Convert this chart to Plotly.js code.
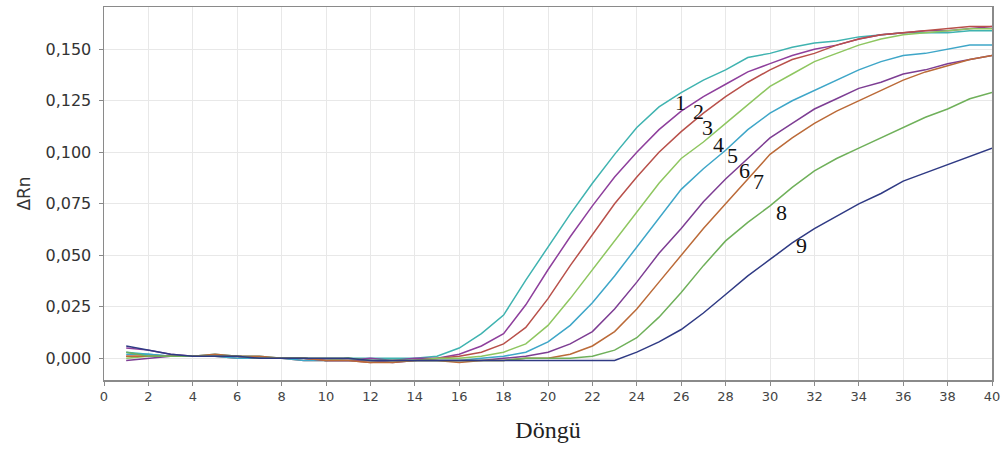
<!DOCTYPE html>
<html>
<head>
<meta charset="utf-8">
<script src="https://cdn.plot.ly/plotly-3.0.1.min.js"></script>
<style>html,body{margin:0;padding:0;background:#fff;}#chart{width:1002px;height:451px;}</style>
</head>
<body>
<div id="chart"></div>
<script>
const cycles = [1,2,3,4,5,6,7,8,9,10,11,12,13,14,15,16,17,18,19,20,21,22,23,24,25,26,27,28,29,30,31,32,33,34,35,36,37,38,39,40];

const curve1 = [0.003,0.002,0.001,0.001,0.002,0.001,0.001,0.000,0.000,-0.001,0.000,0.000,0.000,0.000,0.001,0.005,0.012,0.021,0.038,0.054,0.070,0.085,0.099,0.112,0.122,0.129,0.135,0.140,0.146,0.148,0.151,0.153,0.154,0.156,0.157,0.158,0.158,0.158,0.159,0.159];
const curve2 = [0.005,0.004,0.002,0.001,0.001,0.001,0.000,0.000,0.000,-0.001,-0.001,0.000,-0.001,0.000,0.000,0.002,0.006,0.012,0.026,0.043,0.059,0.074,0.088,0.100,0.111,0.120,0.127,0.133,0.139,0.143,0.147,0.150,0.152,0.155,0.157,0.158,0.159,0.159,0.160,0.161];
const curve3 = [0.001,0.001,0.001,0.001,0.001,0.000,0.000,0.000,-0.001,-0.001,-0.001,-0.002,-0.001,-0.001,0.000,0.001,0.003,0.007,0.015,0.029,0.045,0.060,0.075,0.088,0.100,0.110,0.119,0.127,0.134,0.140,0.145,0.148,0.152,0.155,0.157,0.158,0.159,0.160,0.161,0.161];
const curve4 = [0.000,0.001,0.001,0.001,0.001,0.001,0.000,0.000,0.000,-0.001,0.000,-0.001,-0.001,-0.001,0.000,0.000,0.001,0.003,0.007,0.016,0.029,0.043,0.057,0.071,0.085,0.097,0.105,0.114,0.123,0.132,0.138,0.144,0.148,0.152,0.155,0.157,0.158,0.159,0.160,0.160];
const curve5 = [0.002,0.002,0.001,0.001,0.001,0.000,0.000,0.000,-0.001,-0.001,-0.001,-0.001,-0.001,-0.001,-0.001,-0.001,0.000,0.001,0.003,0.008,0.016,0.027,0.040,0.054,0.068,0.082,0.092,0.101,0.111,0.119,0.125,0.130,0.135,0.140,0.144,0.147,0.148,0.150,0.152,0.152];
const curve6 = [-0.001,0.000,0.001,0.001,0.001,0.001,0.000,0.000,0.000,-0.001,-0.001,-0.001,-0.002,-0.001,-0.001,-0.001,-0.001,0.000,0.001,0.003,0.007,0.013,0.024,0.037,0.051,0.063,0.076,0.087,0.097,0.107,0.114,0.121,0.126,0.131,0.134,0.138,0.140,0.143,0.145,0.147];
const curve7 = [0.001,0.001,0.001,0.001,0.002,0.001,0.001,0.000,0.000,-0.001,-0.001,-0.002,-0.002,-0.001,-0.001,-0.002,-0.001,-0.001,0.000,0.000,0.002,0.006,0.013,0.024,0.037,0.050,0.063,0.075,0.087,0.099,0.107,0.114,0.120,0.125,0.130,0.135,0.139,0.142,0.145,0.147];
const curve8 = [0.003,0.001,0.001,0.001,0.001,0.001,0.000,0.000,0.000,0.000,0.000,-0.001,-0.001,-0.001,-0.001,-0.001,-0.001,-0.001,0.000,0.000,0.000,0.001,0.004,0.010,0.020,0.032,0.045,0.057,0.066,0.074,0.083,0.091,0.097,0.102,0.107,0.112,0.117,0.121,0.126,0.129];
const curve9 = [0.006,0.004,0.002,0.001,0.001,0.001,0.000,0.000,0.000,0.000,0.000,-0.001,-0.001,-0.001,-0.001,-0.001,-0.001,-0.001,-0.001,-0.001,-0.001,-0.001,-0.001,0.003,0.008,0.014,0.022,0.031,0.040,0.048,0.056,0.063,0.069,0.075,0.080,0.086,0.090,0.094,0.098,0.102];

const seriesNames = ['1','2','3','4','5','6','7','8','9'];
const seriesValues = [curve1,curve2,curve3,curve4,curve5,curve6,curve7,curve8,curve9];
const seriesColors = ['#3fb3b0','#8e3f9c','#b8504a','#8ec660','#3ea6c8','#7d3d93','#bb6a38','#6fb05a','#2f3a84'];

const labelX = [25.95,26.76,27.2,27.66,28.3,28.87,29.46,30.54,31.44];
const labelY = [0.1244,0.1196,0.1118,0.1040,0.0982,0.0914,0.0856,0.0710,0.0550];

const traces = seriesValues.map((v,i)=>({
  x: cycles, y: v, type:'scatter', mode:'lines', name: seriesNames[i],
  line:{color: seriesColors[i], width:1.5}, showlegend:false, hoverinfo:'skip'
}));

const annotations = seriesNames.map((t,i)=>({
  x: labelX[i], y: labelY[i], xref:'x', yref:'y', text: t, showarrow:false,
  font:{family:'Liberation Serif, Times New Roman, serif', size:22, color:'#111'}
}));

const layout = {
  width:1002, height:451,
  margin:{l:104, r:10, t:7, b:71, pad:0},
  paper_bgcolor:'#fff', plot_bgcolor:'#fff',
  separators: ',.',
  showlegend:false,
  annotations: annotations,
  xaxis:{
    range:[0,40], tick0:0, dtick:2, tickmode:'linear',
    showgrid:true, gridcolor:'#e8e8e8', gridwidth:1,
    zeroline:false, showline:true, linecolor:'#8a8a8a', linewidth:1.5, mirror:true,
    ticks:'outside', ticklen:4, tickcolor:'#8a8a8a',
    tickfont:{family:'DejaVu Sans, sans-serif', size:13, color:'#444'},
    title:{text:'Döngü', font:{family:'Liberation Serif, Times New Roman, serif', size:24, color:'#222'}, standoff:18}
  },
  yaxis:{
    range:[-0.0105,0.1705], tick0:0, dtick:0.025, tickmode:'linear', tickformat:'.3f',
    showgrid:true, gridcolor:'#e8e8e8', gridwidth:1,
    zeroline:false, showline:true, linecolor:'#8a8a8a', linewidth:1.5, mirror:true,
    ticks:'outside', ticklen:4, tickcolor:'#8a8a8a', ticklabelstandoff:4,
    tickfont:{family:'DejaVu Sans, sans-serif', size:16, color:'#333'},
    title:{text:'ΔRn', font:{family:'DejaVu Sans, sans-serif', size:17, color:'#333'}, standoff:10}
  }
};

Plotly.newPlot('chart', traces, layout, {displayModeBar:false, staticPlot:true});
</script>
</body>
</html>
